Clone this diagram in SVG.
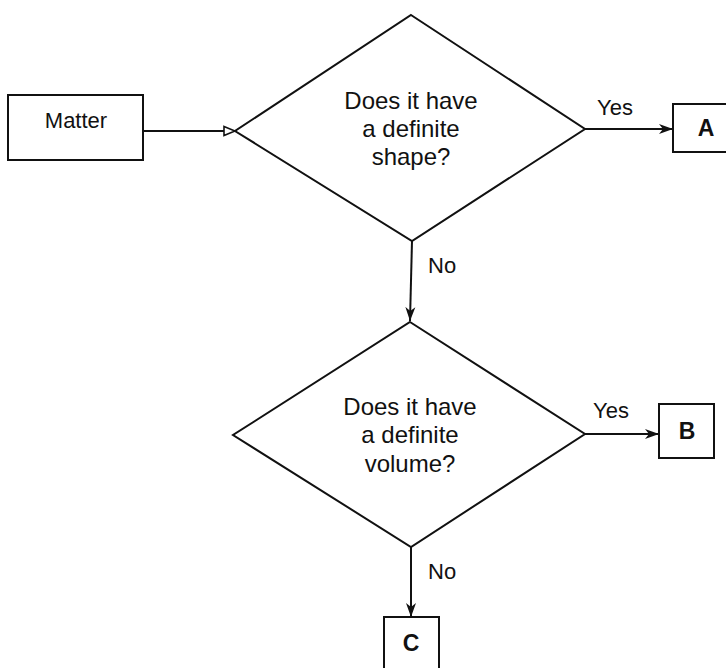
<svg xmlns="http://www.w3.org/2000/svg" width="726" height="668" viewBox="0 0 726 668">
<style>
  .shape { fill: #fff; stroke: #111; stroke-width: 2; }
  .conn { fill: none; stroke: #111; stroke-width: 2; }
  .q { font-family: "Liberation Sans", Arial, sans-serif; font-size: 24px; fill: #111; text-anchor: middle; }
  .lbl { font-family: "Liberation Sans", Arial, sans-serif; font-size: 22px; fill: #111; }
  .box { font-family: "Liberation Sans", Arial, sans-serif; font-size: 22px; fill: #111; text-anchor: middle; }
  .letter { font-family: "Liberation Sans", Arial, sans-serif; font-size: 23px; font-weight: bold; fill: #111; text-anchor: middle; }
</style>
<defs>
  <marker id="open" markerWidth="14" markerHeight="12" refX="12" refY="6" orient="auto" markerUnits="userSpaceOnUse">
    <path d="M1,1.5 L12,6 L1,10.5 Z" fill="#fff" stroke="#111" stroke-width="1.6"/>
  </marker>
  <marker id="solid" markerWidth="16" markerHeight="12" refX="14" refY="6" orient="auto" markerUnits="userSpaceOnUse">
    <path d="M0,1 L14,6 L0,11 L4,6 Z" fill="#111"/>
  </marker>
</defs>
<rect width="726" height="668" fill="#fff"/>
<g id="connectors">
  <line class="conn" x1="143" y1="131" x2="235" y2="131" marker-end="url(#open)"/>
  <line class="conn" x1="585" y1="129" x2="673" y2="129" marker-end="url(#solid)"/>
  <line class="conn" x1="412" y1="241" x2="410" y2="321" marker-end="url(#solid)"/>
  <line class="conn" x1="585" y1="434" x2="659" y2="434" marker-end="url(#solid)"/>
  <line class="conn" x1="411" y1="547" x2="411" y2="617" marker-end="url(#solid)"/>
  <text class="lbl" x="597" y="115">Yes</text>
  <text class="lbl" x="428" y="273">No</text>
  <text class="lbl" x="593" y="418">Yes</text>
  <text class="lbl" x="428" y="579">No</text>
</g>
<g id="matter">
  <rect class="shape" x="8" y="95" width="135" height="65"/>
  <text class="box" x="76" y="128">Matter</text>
</g>
<g id="q-shape">
  <polygon class="shape" points="411,15 585,129 412,241 235,131"/>
  <text class="q" x="411" y="109">Does it have</text>
  <text class="q" x="411" y="137">a definite</text>
  <text class="q" x="411" y="165">shape?</text>
</g>
<g id="a">
  <rect class="shape" x="673" y="104" width="60" height="48"/>
  <text class="letter" x="706" y="136">A</text>
</g>
<g id="q-volume">
  <polygon class="shape" points="410,322 585,434 411,547 233,435"/>
  <text class="q" x="410" y="415">Does it have</text>
  <text class="q" x="410" y="443">a definite</text>
  <text class="q" x="410" y="472">volume?</text>
</g>
<g id="b">
  <rect class="shape" x="659" y="404" width="55" height="54"/>
  <text class="letter" x="687" y="439">B</text>
</g>
<g id="c">
  <rect class="shape" x="384" y="617" width="55" height="60"/>
  <text class="letter" x="411" y="651">C</text>
</g>
</svg>
